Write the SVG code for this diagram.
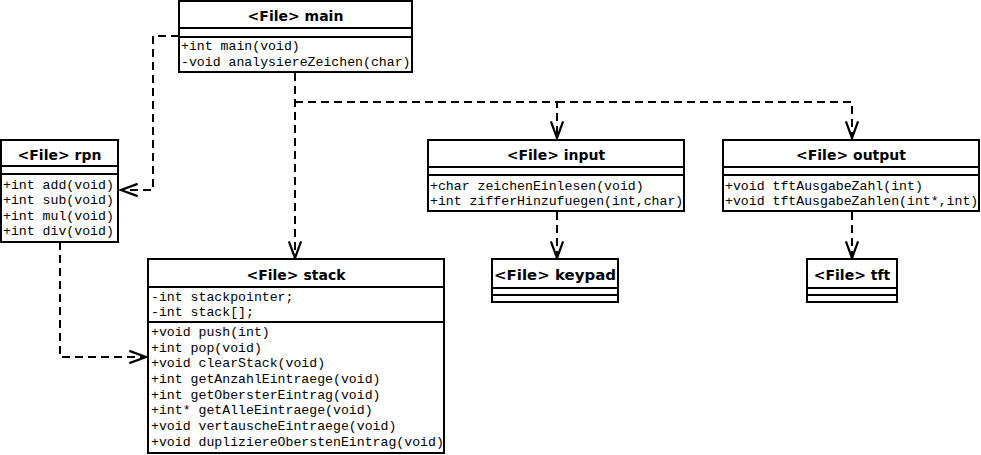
<svg xmlns="http://www.w3.org/2000/svg" width="981" height="455" viewBox="0 0 981 455">
<defs>
<marker id="arr" markerUnits="userSpaceOnUse" markerWidth="20" markerHeight="20" viewBox="-16 -8 18 16" refX="0" refY="0" orient="auto" overflow="visible">
<path d="M-15,-5.5 L0,0 L-15,5.5" fill="none" stroke="#000" stroke-width="2" stroke-dasharray="none"/>
</marker>
<style>
.box{fill:#fff;stroke:#000;stroke-width:2}
.ln{stroke:#000;stroke-width:2}
.hd{font-family:"DejaVu Sans",Verdana,sans-serif;font-weight:bold;font-size:14px;text-anchor:middle;fill:#000}
.mt{font-family:"Liberation Mono","Courier New",monospace;font-size:13.2px;fill:#000}
.cn{fill:none;stroke:#000;stroke-width:2;stroke-dasharray:8 5}
</style>
</defs>
<rect width="981" height="455" fill="#fff"/>

<g id="connectors">
<path class="cn" d="M179,36 H153 V190 H121" marker-end="url(#arr)"/>
<path class="cn" d="M295,73 V258" marker-end="url(#arr)"/>
<path class="cn" d="M295,102 H557 V138" marker-end="url(#arr)"/>
<path class="cn" d="M557,102 H852 V138" marker-end="url(#arr)"/>
<path class="cn" d="M60,242 V357 H146" marker-end="url(#arr)"/>
<path class="cn" d="M557,212 V258" marker-end="url(#arr)"/>
<path class="cn" d="M852,212 V258" marker-end="url(#arr)"/>
</g>

<g id="main">
<rect class="box" x="179" y="1" width="233" height="71"/>
<line class="ln" x1="179" y1="28" x2="412" y2="28"/>
<line class="ln" x1="179" y1="37" x2="412" y2="37"/>
<text class="hd" x="295.5" y="21">&lt;File&gt; main</text>
<text class="mt" x="181" y="50">+int main(void)</text>
<text class="mt" x="181" y="65.6">-void analysiereZeichen(char)</text>
</g>

<g id="rpn">
<rect class="box" x="1" y="140" width="117" height="102"/>
<line class="ln" x1="1" y1="166" x2="118" y2="166"/>
<line class="ln" x1="1" y1="174" x2="118" y2="174"/>
<text class="hd" x="59.5" y="160">&lt;File&gt; rpn</text>
<text class="mt" x="3" y="188.5">+int add(void)</text>
<text class="mt" x="3" y="204">+int sub(void)</text>
<text class="mt" x="3" y="219.5">+int mul(void)</text>
<text class="mt" x="3" y="235">+int div(void)</text>
</g>

<g id="stack">
<rect class="box" x="148" y="259" width="296" height="194"/>
<line class="ln" x1="148" y1="287" x2="444" y2="287"/>
<line class="ln" x1="148" y1="322" x2="444" y2="322"/>
<text class="hd" x="296" y="280">&lt;File&gt; stack</text>
<text class="mt" x="151" y="300.5">-int stackpointer;</text>
<text class="mt" x="151" y="316">-int stack[];</text>
<text class="mt" x="151" y="336">+void push(int)</text>
<text class="mt" x="151" y="351.7">+int pop(void)</text>
<text class="mt" x="151" y="367.4">+void clearStack(void)</text>
<text class="mt" x="151" y="383">+int getAnzahlEintraege(void)</text>
<text class="mt" x="151" y="398.7">+int getObersterEintrag(void)</text>
<text class="mt" x="151" y="414.4">+int* getAlleEintraege(void)</text>
<text class="mt" x="151" y="430">+void vertauscheEintraege(void)</text>
<text class="mt" x="151" y="445.7">+void dupliziereOberstenEintrag(void)</text>
</g>

<g id="input">
<rect class="box" x="428" y="140" width="256" height="71"/>
<line class="ln" x1="428" y1="167" x2="684" y2="167"/>
<line class="ln" x1="428" y1="175" x2="684" y2="175"/>
<text class="hd" x="556" y="160">&lt;File&gt; input</text>
<text class="mt" x="430" y="189.5">+char zeichenEinlesen(void)</text>
<text class="mt" x="430" y="205">+int zifferHinzufuegen(int,char)</text>
</g>

<g id="output">
<rect class="box" x="723" y="140" width="256" height="71"/>
<line class="ln" x1="723" y1="167" x2="979" y2="167"/>
<line class="ln" x1="723" y1="175" x2="979" y2="175"/>
<text class="hd" x="851" y="160">&lt;File&gt; output</text>
<text class="mt" x="725" y="189.5">+void tftAusgabeZahl(int)</text>
<text class="mt" x="725" y="205">+void tftAusgabeZahlen(int*,int)</text>
</g>

<g id="keypad">
<rect class="box" x="492" y="259" width="126" height="43"/>
<line class="ln" x1="492" y1="288" x2="618" y2="288"/>
<line class="ln" x1="492" y1="295" x2="618" y2="295"/>
<text class="hd" x="555" y="280" textLength="122" lengthAdjust="spacingAndGlyphs">&lt;File&gt; keypad</text>
</g>

<g id="tft">
<rect class="box" x="807" y="259" width="90" height="43"/>
<line class="ln" x1="807" y1="288" x2="897" y2="288"/>
<line class="ln" x1="807" y1="295" x2="897" y2="295"/>
<text class="hd" x="852" y="280">&lt;File&gt; tft</text>
</g>
</svg>
